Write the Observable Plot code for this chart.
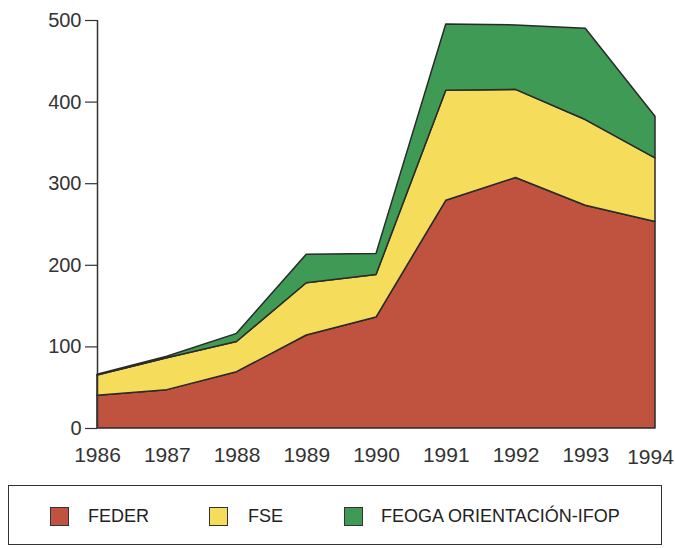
<!DOCTYPE html>
<html>
<head>
<meta charset="utf-8">
<script src="https://cdn.jsdelivr.net/npm/d3@7"></script>
<script src="https://cdn.jsdelivr.net/npm/@observablehq/plot@0.6"></script>
<style>
  body { margin: 0; background: #fff; font-family: "Liberation Sans", Arial, sans-serif; }
  #wrap { position: relative; width: 675px; height: 548px; overflow: hidden; }
  #chart { position: absolute; left: 0; top: 0; }
  #chart svg { overflow: visible; }
  #legend { position: absolute; left: 8px; top: 485px; width: 654px; height: 60px;
            border: 1.5px solid #333; box-sizing: border-box; }
  .sw { position: absolute; width: 19px; height: 19px; box-sizing: border-box;
        border: 1.5px solid #333; top: 21px; }
  .lb { position: absolute; top: 20px; font-size: 18px; line-height: 21px; color: #222; }
</style>
</head>
<body>
<div id="wrap">
  <div id="chart"></div>
  <div id="legend"></div>
</div>
<script>
const years = [1986, 1987, 1988, 1989, 1990, 1991, 1992, 1993, 1994];
const feder = [40, 47, 69, 114, 136, 279, 307, 273, 253];
const fse   = [25, 39, 37, 64, 52, 135, 108, 105, 78];
const feoga = [1, 2, 10, 35, 26, 81, 79, 112, 51];
const seriesNames = ["FEDER", "FSE", "FEOGA ORIENTACIÓN-IFOP"];
const seriesColors = ["#c0533f", "#f5dc5a", "#3f9a55"];
const yTicks = [0, 100, 200, 300, 400, 500];

const seriesValues = [feder, fse, feoga];
const data = [];
seriesNames.forEach((name, i) => {
  years.forEach((yr, j) => data.push({ year: yr, fund: name, value: seriesValues[i][j] }));
});
const lastYear = years[years.length - 1];

const plot = Plot.plot({
  width: 675,
  height: 480,
  marginLeft: 97,
  marginRight: 20,
  marginTop: 20,
  marginBottom: 52,
  style: { fontFamily: "Liberation Sans, Arial, sans-serif", color: "#333", background: "#fff", overflow: "visible" },
  x: { domain: [1986, 1994] },
  y: { domain: [0, 500] },
  color: { domain: seriesNames, range: seriesColors },
  marks: [
    Plot.areaY(data, Plot.stackY({
      x: "year", y: "value", fill: "fund", z: "fund",
      stroke: "#2a2a2a", strokeWidth: 1.5, strokeLinejoin: "round"
    })),
    Plot.ruleX([1986], { y1: 0, y2: 500, stroke: "#333", strokeWidth: 1.5 }),
    Plot.axisY({ ticks: yTicks, tickSize: 12, tickPadding: 4, fontSize: 20,
                 stroke: "#333", strokeWidth: 1.2, label: null, fill: "#333" }),
    Plot.axisX({ ticks: years.slice(0, -1), tickSize: 0, tickPadding: 19, fontSize: 21,
                 tickFormat: d => String(d), label: null, fill: "#333" }),
    Plot.axisX({ ticks: [lastYear], tickSize: 0, tickPadding: 21, fontSize: 21, dx: -5,
                 tickFormat: d => String(d), label: null, fill: "#333" })
  ]
});
document.getElementById("chart").appendChild(plot);

const legend = document.getElementById("legend");
const swLeft = [41, 200, 335];
const lbLeft = [79, 239, 372];
seriesNames.forEach((name, i) => {
  const s = document.createElement("div");
  s.className = "sw";
  s.style.left = swLeft[i] + "px";
  s.style.background = seriesColors[i];
  legend.appendChild(s);
  const t = document.createElement("div");
  t.className = "lb";
  t.style.left = lbLeft[i] + "px";
  t.textContent = name;
  legend.appendChild(t);
});
</script>
</body>
</html>
